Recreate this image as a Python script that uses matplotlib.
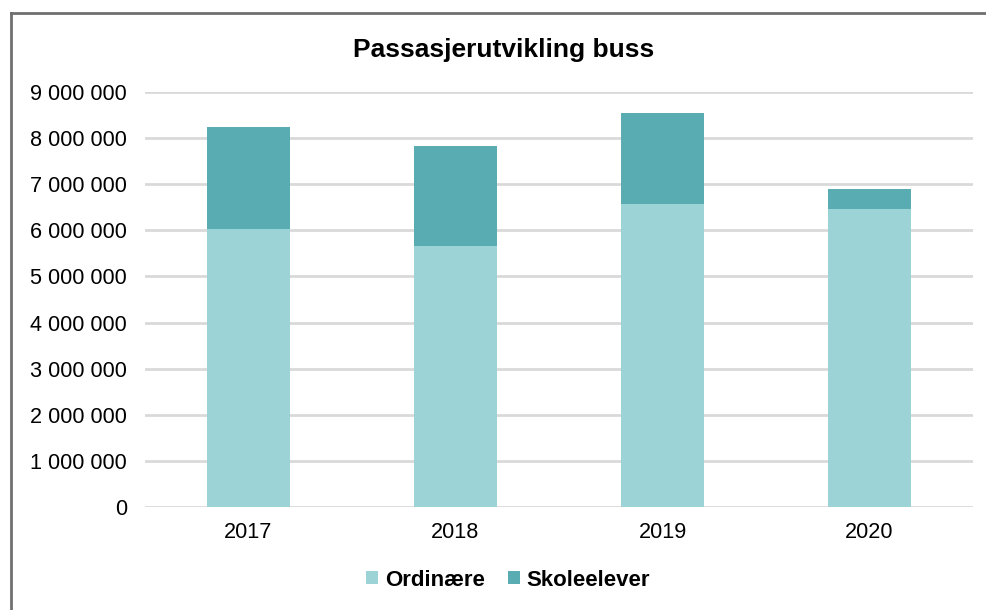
import matplotlib
matplotlib.use("Agg")
import matplotlib.pyplot as plt
from matplotlib.lines import Line2D
from matplotlib.ticker import FuncFormatter

plt.rcParams['font.family'] = ['Liberation Sans', 'DejaVu Sans']

# data
years = ['2017', '2018', '2019', '2020']
ordinaere = [6020000, 5670000, 6580000, 6470000]
skoleelever = [2215000, 2150000, 1970000, 430000]
yticks = [0, 1000000, 2000000, 3000000, 4000000, 5000000, 6000000, 7000000, 8000000, 9000000]

light = '#9cd3d6'
dark = '#5aacb3'

W, H = 986, 610
fig = plt.figure(figsize=(W / 100, H / 100), dpi=100)
ax = fig.add_axes([145 / W, 1 - 507 / H, (973 - 145) / W, (507 - 92) / H])

x = range(len(years))
ax.bar(x, ordinaere, width=0.4, color=light, label='Ordinære', zorder=3)
ax.bar(x, skoleelever, width=0.4, bottom=ordinaere, color=dark, label='Skoleelever', zorder=3)

ax.set_xlim(-0.5, len(years) - 0.5)
ax.set_ylim(0, 9000000)
ax.set_yticks(yticks)
ax.yaxis.set_major_formatter(FuncFormatter(lambda v, p: f'{int(v):,}'.replace(',', ' ')))
ax.set_xticks(list(x))
ax.set_xticklabels(years)
ax.tick_params(axis='both', length=0, labelsize=15.6, colors='#000000')
ax.tick_params(axis='y', pad=13)
ax.tick_params(axis='x', pad=11)
ax.grid(axis='y', color='#d9d9d9', linewidth=2, zorder=0)
for s in ax.spines.values():
    s.set_visible(False)

fig.text(504 / W, 1 - 50 / H, 'Passasjerutvikling buss', ha='center', va='center',
         fontsize=19, fontweight='bold')

leg = fig.legend(loc='center', bbox_to_anchor=(508 / W, 1 - 580 / H), ncol=2, frameon=False,
                 prop={'size': 16, 'weight': 'bold'}, handlelength=0.55, handleheight=0.55,
                 handletextpad=0.3, columnspacing=1.05)

# chart frame (top and left edges visible)
fig.add_artist(Line2D([11 / W, 1], [1 - 13 / H, 1 - 13 / H], color='#707070', linewidth=2,
                      transform=fig.transFigure))
fig.add_artist(Line2D([11 / W, 11 / W], [0, 1 - 13 / H], color='#707070', linewidth=2,
                      transform=fig.transFigure))

fig.savefig('out.png', dpi=100)
